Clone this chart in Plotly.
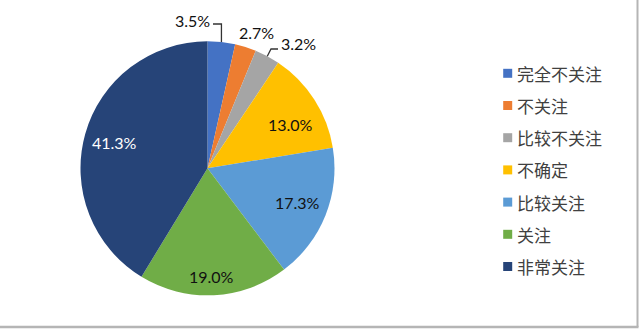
import math
import plotly.graph_objects as go

# ---- data ----
categories = ["完全不关注", "不关注", "比较不关注", "不确定", "比较关注", "关注", "非常关注"]
values = [3.5, 2.7, 3.2, 13.0, 17.3, 19.0, 41.3]
value_labels = ["3.5%", "2.7%", "3.2%", "13.0%", "17.3%", "19.0%", "41.3%"]

# ---- style ----
colors = ["#4472C4", "#ED7D31", "#A5A5A5", "#FFC000", "#5B9BD5", "#70AD47", "#264478"]
W, H = 639, 329
CX, CY, R = 207.5, 168.3, 127.0
inside_factor = [None, None, None, 0.74, 0.76, 0.85, 0.76]
inside_angle_shift = [0, 0, 0, 5.0, -1.0, 0.5, 0]
inside_color = [None, None, None, "#111111", "#111111", "#111111", "#ffffff"]
# outside labels: text centre in px, and leader line start (px) or None
outside = {
    0: dict(text=(192.5, 21), line_from=(213, 24)),
    1: dict(text=(256, 32), line_from=None),
    2: dict(text=(298.5, 43.5), line_from=(278, 49)),
}
label_font = dict(family="Lato, Liberation Sans, sans-serif", size=16)
legend_font = dict(family="Noto Sans CJK SC, sans-serif", size=17, color="#404040")


def px(x):
    return x / W


def py(y):
    return 1 - y / H


def note(x, y, text, font, xanchor="center"):
    return dict(x=px(x), y=py(y), xref="paper", yref="paper",
                xanchor=xanchor, yanchor="middle", text=text,
                showarrow=False, font=font)


fig = go.Figure()
fig.add_trace(go.Pie(
    labels=categories,
    values=values,
    sort=False,
    direction="clockwise",
    rotation=0,
    marker=dict(colors=colors, line=dict(width=0)),
    textinfo="none",
    hoverinfo="label+percent",
    showlegend=False,
    domain=dict(x=[px(CX - R), px(CX + R)], y=[py(CY + R), py(CY - R)]),
))

total = sum(values)
cum = 0.0
annotations = []
shapes = []
for i, v in enumerate(values):
    mid = (cum + v / 2) / total * 360.0
    cum += v
    if i in outside:
        o = outside[i]
        tx, ty = o["text"]
        annotations.append(note(tx, ty, value_labels[i], dict(color="#111111", **label_font)))
        if o["line_from"] is not None:
            a = math.radians(mid)
            ex, ey = CX + R * math.sin(a), CY - R * math.cos(a)
            lx, ly = o["line_from"]
            if i == 0:
                elbow = (ex, ly)
            else:
                elbow = (lx - 7, ly)
            path = "M {},{} L {},{} L {},{}".format(
                px(lx), py(ly), px(elbow[0]), py(elbow[1]), px(ex), py(ey))
            shapes.append(dict(type="path", path=path, xref="paper", yref="paper",
                               line=dict(color="#333333", width=1.3)))
    else:
        a = math.radians(mid + inside_angle_shift[i])
        rr = R * inside_factor[i]
        tx, ty = CX + rr * math.sin(a), CY - rr * math.cos(a)
        annotations.append(note(tx, ty, value_labels[i], dict(color=inside_color[i], **label_font)))

# manual legend
leg_x, leg_y0, leg_dy, sq = 507.7, 73.3, 32.2, 9
for i, c in enumerate(categories):
    yc = leg_y0 + i * leg_dy
    shapes.append(dict(type="rect", xref="paper", yref="paper",
                       x0=px(leg_x - sq / 2), x1=px(leg_x + sq / 2),
                       y0=py(yc + sq / 2), y1=py(yc - sq / 2),
                       fillcolor=colors[i], line=dict(width=0)))
    annotations.append(note(515, yc, c, legend_font, xanchor="left"))

# frame shadow (right & bottom)
shapes.append(dict(type="line", xref="paper", yref="paper",
                   x0=px(637.5), x1=px(637.5), y0=py(327), y1=py(0),
                   line=dict(color="#b5b5b5", width=2)))
shapes.append(dict(type="line", xref="paper", yref="paper",
                   x0=px(0), x1=px(638.5), y0=py(327), y1=py(327),
                   line=dict(color="#b5b5b5", width=2.5)))

fig.update_layout(
    width=W, height=H,
    margin=dict(l=0, r=0, t=0, b=0),
    paper_bgcolor="white",
    plot_bgcolor="white",
    annotations=annotations,
    shapes=shapes,
)

fig.write_html("out.html")
